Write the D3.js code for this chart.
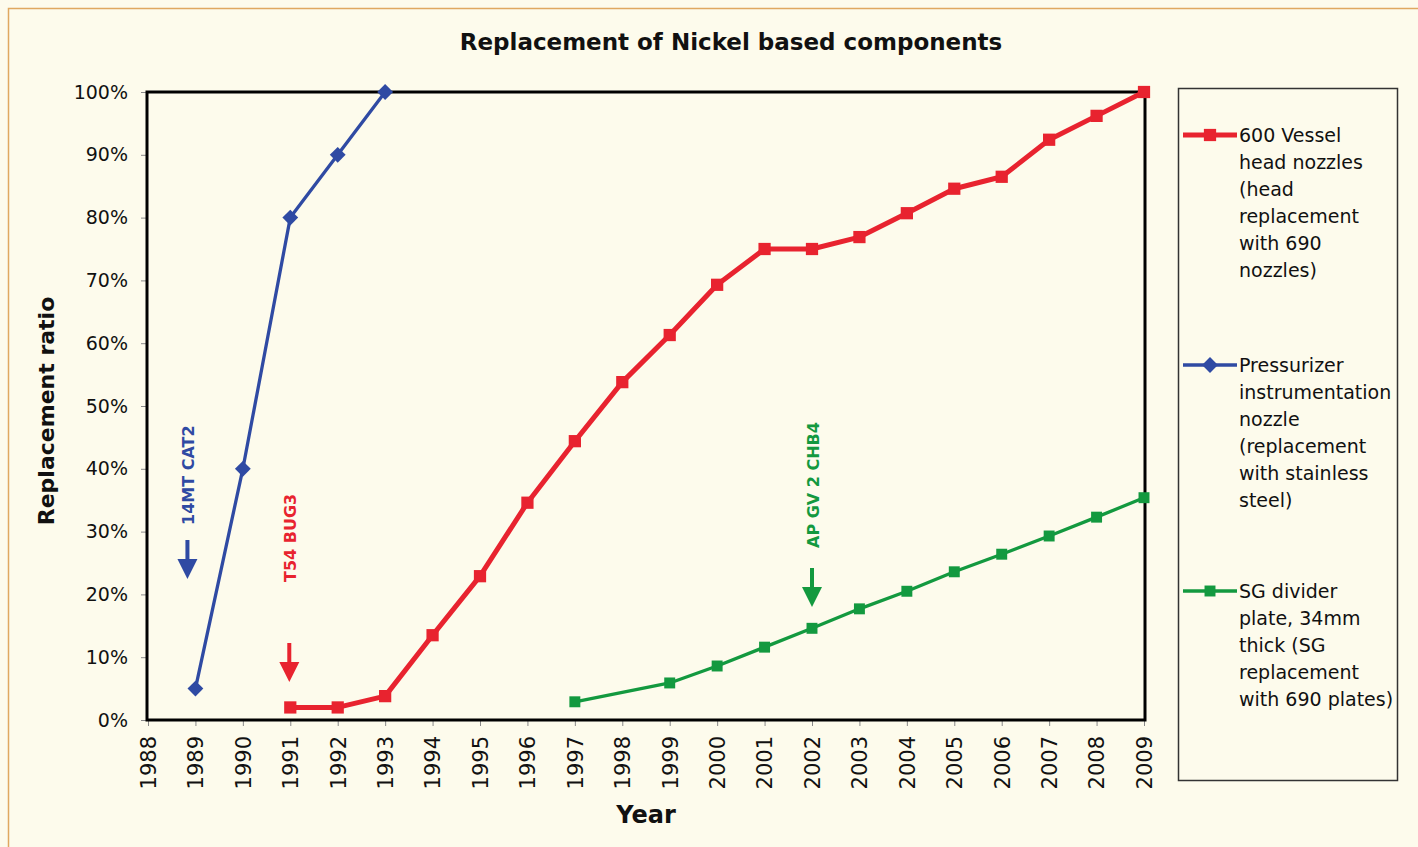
<html>
<head>
  <title>Replacement of Nickel based components</title>
  <script src="https://d3js.org/d3.v7.min.js"></script>
  <style>
    body { margin: 0; background: #fdfbec; font-family: "DejaVu Sans", sans-serif; }
    .tick text { font-family: "DejaVu Sans", sans-serif; fill: #111; }
  </style>
</head>
<body>
  <div id="chart"></div>
  <script>
    // categories on the x axis
    var years = ['1988','1989','1990','1991','1992','1993','1994','1995','1996','1997','1998',
                 '1999','2000','2001','2002','2003','2004','2005','2006','2007','2008','2009'];
    var yTicks = [0, 0.1, 0.2, 0.3, 0.4, 0.5, 0.6, 0.7, 0.8, 0.9, 1.0];

    // series values
    var vesselYears = ['1991','1992','1993','1994','1995','1996','1997','1998','1999','2000',
                       '2001','2002','2003','2004','2005','2006','2007','2008','2009'];
    var vesselVals = [0.02, 0.02, 0.038, 0.135, 0.229, 0.346, 0.444, 0.538, 0.613, 0.693,
                      0.75, 0.75, 0.769, 0.807, 0.846, 0.865, 0.924, 0.962, 1.0];

    var pressYears = ['1989','1990','1991','1992','1993'];
    var pressVals = [0.05, 0.40, 0.80, 0.90, 1.0];

    var sgYears = ['1997','1999','2000','2001','2002','2003','2004','2005','2006','2007','2008','2009'];
    var sgVals = [0.029, 0.059, 0.086, 0.116, 0.146, 0.177, 0.205, 0.236, 0.264, 0.293, 0.323, 0.354];

    var seriesNames = [
      ['600 Vessel', 'head nozzles', '(head', 'replacement', 'with 690', 'nozzles)'],
      ['Pressurizer', 'instrumentation', 'nozzle', '(replacement', 'with stainless', 'steel)'],
      ['SG divider', 'plate, 34mm', 'thick (SG', 'replacement', 'with 690 plates)']
    ];

    // annotations: label, year of arrow
    var noteLabels = ['14MT CAT2', 'T54 BUG3', 'AP GV 2 CHB4'];
    var noteYears = ['1989', '1991', '2002'];

    var red = '#e8232f', blue = '#2f4aa3', green = '#13993f';

    var W = 1418, H = 847;
    var plot = {left: 147, right: 1145, top: 92, bottom: 720};

    var svg = d3.select('#chart').append('svg')
        .attr('width', W).attr('height', H);

    svg.append('rect').attr('width', W).attr('height', H).attr('fill', '#fdfbec');
    // outer frame
    svg.append('rect').attr('x', 8.5).attr('y', 8.5).attr('width', W + 20).attr('height', H + 20)
        .attr('fill', 'none').attr('stroke', '#e0a860').attr('stroke-width', 1.5);

    var x = d3.scalePoint().domain(years).range([plot.left + 1, plot.right - 1]);
    var y = d3.scaleLinear().domain([0, 1]).range([plot.bottom, plot.top]);

    // title
    svg.append('text').attr('x', 731).attr('y', 50).attr('text-anchor', 'middle')
        .style('font-size', '23px').style('font-weight', 'bold').attr('fill', '#111')
        .text('Replacement of Nickel based components');

    // axes
    var yAxis = svg.append('g').attr('transform', 'translate(' + plot.left + ',0)')
        .call(d3.axisLeft(y).tickValues(yTicks).tickFormat(d3.format('.0%')).tickSize(6).tickPadding(13));
    yAxis.selectAll('text').style('font-size', '19px');
    yAxis.selectAll('line').attr('stroke', '#888');
    yAxis.select('.domain').remove();

    var xAxis = svg.append('g').attr('transform', 'translate(0,' + plot.bottom + ')')
        .call(d3.axisBottom(x).tickSize(6).tickPadding(4));
    xAxis.selectAll('text').style('font-size', '21px')
        .attr('transform', 'rotate(-90)').attr('text-anchor', 'end')
        .attr('x', -16).attr('y', 0).attr('dy', '0.35em');
    xAxis.selectAll('line').attr('stroke', '#888');
    xAxis.select('.domain').remove();

    // plot frame
    svg.append('rect').attr('x', plot.left).attr('y', plot.top)
        .attr('width', plot.right - plot.left).attr('height', plot.bottom - plot.top)
        .attr('fill', 'none').attr('stroke', '#000').attr('stroke-width', 3);

    // axis labels
    svg.append('text').attr('x', 646).attr('y', 823).attr('text-anchor', 'middle')
        .style('font-size', '24px').style('font-weight', 'bold').attr('fill', '#111').text('Year');
    svg.append('text').attr('transform', 'translate(54,411) rotate(-90)').attr('text-anchor', 'middle')
        .style('font-size', '22px').style('font-weight', 'bold').attr('fill', '#111').text('Replacement ratio');

    function zip(ys, vs) { return ys.map(function(d, i) { return {year: d, v: vs[i]}; }); }

    var line = d3.line().x(function(d) { return x(d.year); }).y(function(d) { return y(d.v); });

    var series = [
      {data: zip(vesselYears, vesselVals), color: red, width: 5, symbol: d3.symbolSquare, size: 150, rot: 0},
      {data: zip(pressYears, pressVals), color: blue, width: 3.3, symbol: d3.symbolSquare, size: 125, rot: 45},
      {data: zip(sgYears, sgVals), color: green, width: 3.3, symbol: d3.symbolSquare, size: 120, rot: 0}
    ];

    series.forEach(function(s) {
      svg.append('path').datum(s.data).attr('d', line)
          .attr('fill', 'none').attr('stroke', s.color).attr('stroke-width', s.width)
          .attr('stroke-linejoin', 'round');
      svg.selectAll(null).data(s.data).enter().append('path')
          .attr('d', d3.symbol().type(s.symbol).size(s.size))
          .attr('transform', function(d) {
            return 'translate(' + x(d.year) + ',' + y(d.v) + ') rotate(' + s.rot + ')';
          })
          .attr('fill', s.color);
    });

    // annotations with arrows
    var noteColors = [blue, red, green];
    var arrowTops = [540, 643, 568];
    var labelBottoms = [525, 582, 548];
    noteLabels.forEach(function(label, i) {
      var ax = x(noteYears[i]) - (i === 0 ? 8 : (i === 1 ? 1 : 0));
      var top = arrowTops[i];
      var g = svg.append('g').attr('fill', noteColors[i]);
      g.append('rect').attr('x', ax - 2).attr('y', top).attr('width', 4).attr('height', 22);
      g.append('path').attr('d', 'M' + (ax - 10) + ',' + (top + 19) + 'L' + (ax + 10) + ',' + (top + 19) +
          'L' + ax + ',' + (top + 39) + 'Z');
      g.append('text').attr('transform', 'translate(' + (ax + 7) + ',' + labelBottoms[i] + ') rotate(-90)')
          .style('font-size', '16px').style('font-weight', 'bold').text(label);
    });

    // legend
    svg.append('rect').attr('x', 1178.5).attr('y', 88.5).attr('width', 219).attr('height', 692)
        .attr('fill', 'none').attr('stroke', '#333').attr('stroke-width', 1.5);
    var legendY = [135, 365, 591];
    series.forEach(function(s, i) {
      var ly = legendY[i];
      svg.append('line').attr('x1', 1183).attr('x2', 1237).attr('y1', ly).attr('y2', ly)
          .attr('stroke', s.color).attr('stroke-width', s.width);
      svg.append('path').attr('d', d3.symbol().type(s.symbol).size(s.size))
          .attr('transform', 'translate(1210,' + ly + ') rotate(' + s.rot + ')').attr('fill', s.color);
      var t = svg.append('text').attr('x', 1239).attr('y', ly + 7)
          .style('font-size', '19px').attr('fill', '#111');
      seriesNames[i].forEach(function(txt, j) {
        t.append('tspan').attr('x', 1239).attr('dy', j === 0 ? 0 : 27).text(txt);
      });
    });
  </script>
</body>
</html>
